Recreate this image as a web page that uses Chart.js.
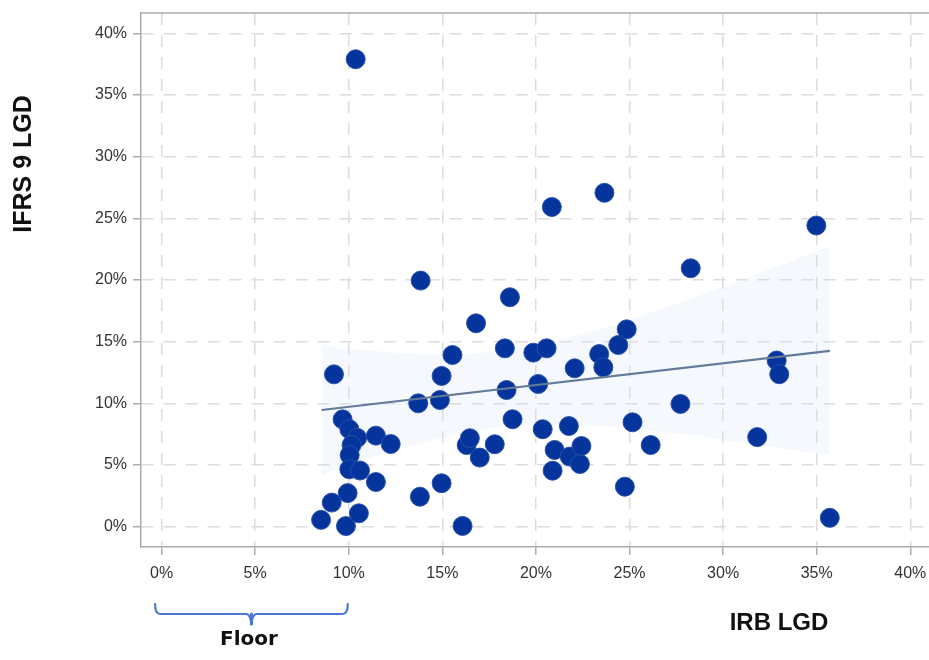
<!DOCTYPE html>
<html>
<head>
<meta charset="utf-8">
<style>
  html, body { margin: 0; padding: 0; background: #ffffff; }
  canvas { display: block; }
</style>
<script src="https://cdn.jsdelivr.net/npm/chart.js@4.4.1/dist/chart.umd.min.js"></script>
</head>
<body>
<canvas id="chart" width="929" height="660"></canvas>
<script>
// IRB LGD (x) against IFRS 9 LGD (y), one point per portfolio, in percent
const irbLgd = [
  8.52, 9.09, 9.21, 9.67, 9.85, 9.94, 10.03, 10.45, 10.15, 10.05,
  10.03, 10.60, 10.37, 10.54, 11.45, 12.24, 11.45, 13.71, 13.80, 13.84,
  14.87, 14.96, 14.96, 15.54, 16.08, 16.30, 16.47, 16.80, 17.00, 17.80,
  18.34, 18.43, 18.61, 18.75, 19.86, 20.12, 20.36, 20.57, 20.85, 20.89,
  21.00, 21.76, 21.80, 22.07, 22.35, 22.43, 23.38, 23.60, 23.66, 24.40,
  24.75, 24.85, 25.16, 26.13, 27.72, 28.27, 31.82, 32.86, 33.00, 34.98,
  35.70
];
const ifrs9Lgd = [
  0.55, 1.95, 12.35, 8.70, 0.05, 2.72, 7.90, 7.20, 6.62, 5.81,
  4.65, 4.55, 37.90, 1.08, 7.38, 6.70, 3.62, 10.00, 2.43, 19.95,
  10.27, 12.22, 3.52, 13.92, 0.06, 6.62, 7.17, 16.49, 5.60, 6.68,
  14.46, 11.08, 18.60, 8.71, 14.11, 11.57, 7.90, 14.46, 25.92, 4.54,
  6.22, 8.16, 5.68, 12.84, 5.08, 6.54, 14.00, 12.92, 27.07, 14.73,
  3.24, 16.00, 8.46, 6.62, 9.95, 20.95, 7.26, 13.47, 12.36, 24.42,
  0.72
];

// Fitted regression line (end points)
const fitX = [8.55, 35.7];
const fitY = [9.46, 14.25];

// Confidence band around the fit
const bandX     = [8.55, 10, 12, 14, 16, 18, 20, 22, 24, 26, 28, 30, 32, 34, 35.7];
const bandUpper = [14.80, 14.45, 14.17, 14.00, 14.00, 14.23, 14.70, 15.41, 16.29, 17.27, 18.33, 19.44, 20.59, 21.75, 22.70];
const bandLower = [4.10, 4.99, 5.97, 6.84, 7.56, 8.03, 8.26, 8.25, 8.09, 7.81, 7.45, 7.04, 6.61, 6.15, 5.82];

// Axis ticks and labels
const xTicks = [0, 5, 10, 15, 20, 25, 30, 35, 40];
const yTicks = [0, 5, 10, 15, 20, 25, 30, 35, 40];
const xTitle = 'IRB LGD';
const yTitle = 'IFRS 9 LGD';
const floorLabel = 'Floor';
const floorRange = [0, 10];

const FRAME = '#a9adb2';
const GRID = '#dcdcdc';
const TICK_FONT = { family: '"Liberation Sans", Arial, sans-serif', size: 16 };

const toPoints = (xs, ys) => xs.map((x, i) => ({ x: x, y: ys[i] }));

// Axis titles, top frame edge and the floor bracket under the x axis
const annotations = {
  id: 'annotations',
  afterDraw(chart) {
    const { ctx, chartArea, scales } = chart;
    const xs = scales.x;
    ctx.save();

    // top edge of the frame
    ctx.strokeStyle = FRAME;
    ctx.lineWidth = 1.5;
    ctx.beginPath();
    ctx.moveTo(chartArea.left, chartArea.top);
    ctx.lineTo(chartArea.right, chartArea.top);
    ctx.stroke();

    // y axis title
    ctx.fillStyle = '#111111';
    ctx.textAlign = 'center';
    ctx.textBaseline = 'middle';
    ctx.font = 'bold 25px "Liberation Sans", Arial, sans-serif';
    ctx.save();
    ctx.translate(24, 164);
    ctx.rotate(-Math.PI / 2);
    ctx.fillText(yTitle, 0, 0);
    ctx.restore();

    // x axis title
    ctx.font = 'bold 24px "Liberation Sans", Arial, sans-serif';
    ctx.fillText(xTitle, 779, 623);

    // floor bracket spanning the floor range
    const x0 = xs.getPixelForValue(floorRange[0]) - 6.5;
    const x1 = xs.getPixelForValue(floorRange[1]) - 1;
    const xm = (x0 + x1) / 2;
    const yTop = chartArea.bottom + 57;
    const yLine = yTop + 10;
    const yTip = yLine + 11;
    ctx.strokeStyle = '#4a78d2';
    ctx.lineWidth = 2.2;
    ctx.lineCap = 'round';
    ctx.beginPath();
    ctx.moveTo(x0, yTop);
    ctx.quadraticCurveTo(x0, yLine, x0 + 5, yLine);
    ctx.lineTo(xm - 5, yLine);
    ctx.quadraticCurveTo(xm - 1, yLine, xm, yTip);
    ctx.quadraticCurveTo(xm + 1, yLine, xm + 5, yLine);
    ctx.lineTo(x1 - 5, yLine);
    ctx.quadraticCurveTo(x1, yLine, x1, yTop);
    ctx.stroke();
    ctx.lineWidth = 3;
    ctx.beginPath();
    ctx.moveTo(xm, yLine);
    ctx.lineTo(xm, yTip - 1);
    ctx.stroke();

    // floor label
    ctx.fillStyle = '#111111';
    ctx.font = 'bold 20px "DejaVu Sans", sans-serif';
    ctx.textBaseline = 'alphabetic';
    ctx.fillText(floorLabel, xm - 2.5, yTip + 20);

    ctx.restore();
  }
};

new Chart(document.getElementById('chart'), {
  type: 'scatter',
  data: {
    datasets: [
      {
        type: 'line',
        data: toPoints(bandX, bandUpper),
        borderWidth: 0,
        pointRadius: 0,
        fill: '+1',
        backgroundColor: 'rgba(214, 225, 246, 0.24)',
        tension: 0.3,
        order: 3
      },
      {
        type: 'line',
        data: toPoints(bandX, bandLower),
        borderWidth: 0,
        pointRadius: 0,
        fill: false,
        tension: 0.3,
        order: 3
      },
      {
        type: 'scatter',
        data: toPoints(irbLgd, ifrs9Lgd),
        pointRadius: 9.5,
        pointBackgroundColor: '#05349c',
        pointBorderColor: 'rgba(40, 80, 170, 0.95)',
        pointBorderWidth: 1,
        order: 2
      },
      {
        type: 'line',
        data: toPoints(fitX, fitY),
        borderColor: '#637a98',
        borderWidth: 2.2,
        pointRadius: 0,
        fill: false,
        order: 1
      }
    ]
  },
  options: {
    responsive: false,
    animation: false,
    events: [],
    devicePixelRatio: 1,
    layout: { autoPadding: false, padding: { top: 13, right: 0, left: 0, bottom: 0 } },
    plugins: {
      legend: { display: false },
      tooltip: { enabled: false }
    },
    scales: {
      x: {
        type: 'linear',
        min: -1.1,
        max: 41,
        afterBuildTicks: (s) => { s.ticks = xTicks.map(v => ({ value: v })); },
        afterFit: (s) => { s.height = 113; s.paddingLeft = 0; s.paddingRight = 0; },
        ticks: {
          callback: (v) => v + '%',
          font: TICK_FONT,
          color: '#333333',
          padding: 9,
          maxRotation: 0
        },
        grid: {
          color: GRID,
          lineWidth: 1.5,
          tickLength: 8,
          tickColor: FRAME,
          tickWidth: 1.5
        },
        border: { display: true, color: FRAME, width: 1.5, dash: [12, 10] }
      },
      y: {
        type: 'linear',
        min: -1.65,
        max: 41.65,
        afterBuildTicks: (s) => { s.ticks = yTicks.map(v => ({ value: v })); },
        afterFit: (s) => { s.width = 141; s.paddingTop = 0; s.paddingBottom = 0; },
        ticks: {
          callback: (v) => v + '%',
          font: TICK_FONT,
          color: '#333333',
          padding: 6
        },
        grid: {
          color: GRID,
          lineWidth: 1.5,
          tickLength: 8,
          tickColor: FRAME,
          tickWidth: 1.5
        },
        border: { display: true, color: FRAME, width: 1.5, dash: [12, 10] }
      }
    }
  },
  plugins: [annotations]
});
</script>
</body>
</html>
